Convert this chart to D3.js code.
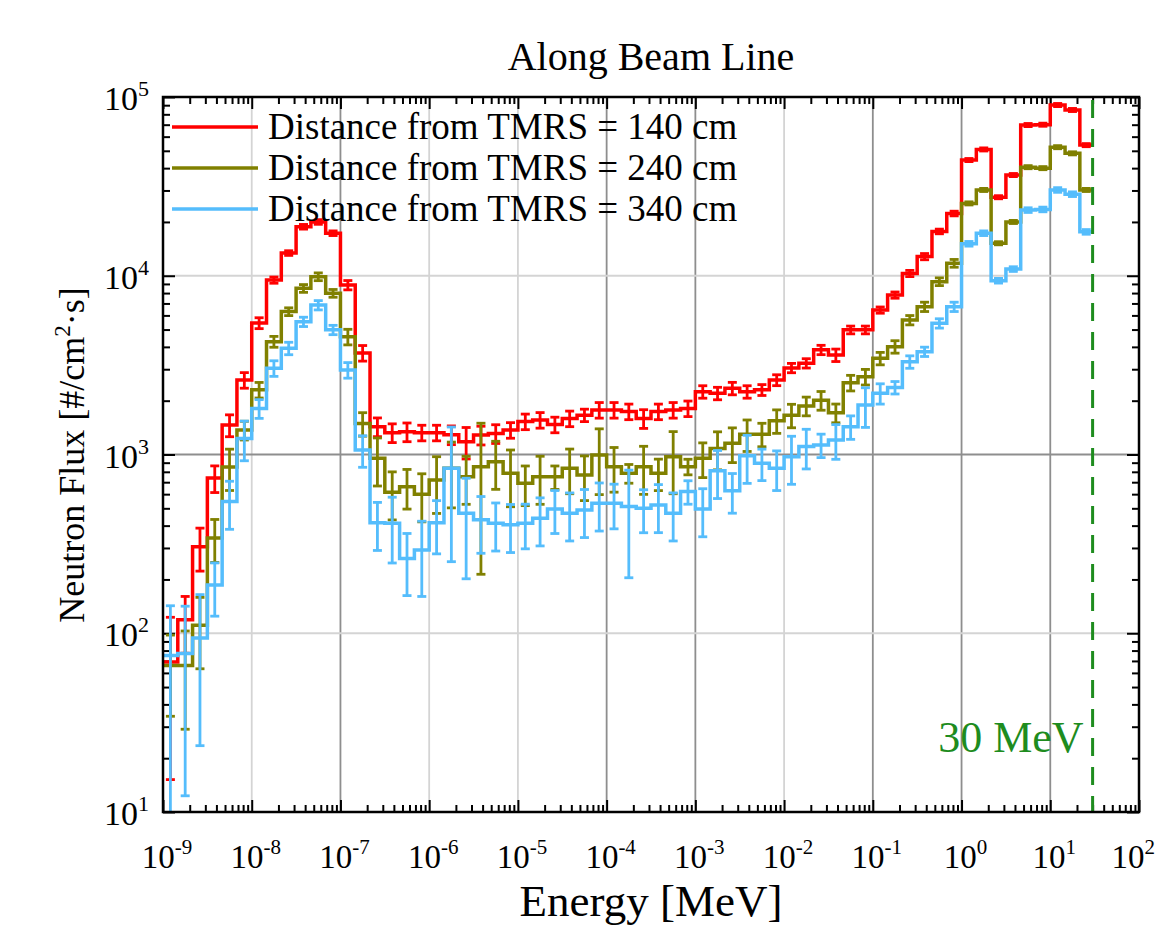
<!DOCTYPE html>
<meta charset="utf-8">
<style>
body { margin: 0; background: #fff; }
text { font-family: "Liberation Serif", "Times New Roman", serif; fill: #000; }
.axis path { display: none; }
.axis line { stroke: #000; stroke-width: 2px; }
.hist { fill: none; stroke-width: 3.5px; stroke-linejoin: miter; }
.err { stroke-width: 2.8px; }
</style>
<body>
<script src="https://d3js.org/d3.v7.min.js"></script>
<script>

// binning: 6 bins per decade, up to the 30 MeV cut
var binsPerDecade = 6,
    eMin = 1e-9,
    eCut = 30,
    nBins = 63;

// neutron flux per bin [#/cm2/s]
var flux140 = [69, 119, 305, 738, 1462, 2610, 5440, 9460, 13400, 18800, 20000, 17300, 8870,
  3700,
  1430, 1325, 1340, 1325, 1325, 1290, 1180, 1285, 1310, 1370, 1530, 1560, 1470,
  1590, 1660, 1775, 1775, 1740, 1590, 1740, 1775, 1810, 2245, 2200, 2345, 2245,
  2300, 2610, 3050, 3240, 3850, 3600, 4980, 4980, 6430, 7800, 10300, 12800, 17700, 22300,
  44400, 50900, 27500, 36600, 69700, 70000, 90200, 84600, 53800];

var flux240 = [66, 66, 111, 341, 850, 1370, 2300, 4280, 6300, 8500, 9880, 7980, 4560,
  1490,
  952, 615, 660, 600, 720, 838, 752, 855, 912, 785, 690, 752,
  750, 838, 767, 994, 855, 785, 855, 785, 973, 855, 952, 1080, 1155, 1300, 1300,
  1545, 1660, 1870, 2010, 1710, 2520, 2720, 3450, 4010, 5650, 6710, 9270, 11750,
  25400, 30200, 15200, 20000, 40500, 40000, 52400, 48400, 30200];

var flux340 = [75, 77, 94, 186, 545, 1230, 1810, 3040, 3930, 5530, 6850, 4980, 2970,
  1060,
  415, 412, 262, 292, 415, 838, 469, 431, 412, 404, 412, 440,
  495, 469, 490, 533, 533, 511, 500, 522, 469, 620, 495, 810, 626, 985, 893,
  838, 973, 1107, 1130, 1205, 1430, 1890, 2200, 2370, 3300, 3760, 5420, 6710,
  15100, 17300, 9380, 10900, 23300, 23500, 30200, 28600, 17600];

// relative statistical errors per bin
var err140 = [0.78, 0.35, 0.27, 0.17, 0.14, 0.1, 0.07, 0.04, 0.03, 0.03, 0.03, 0.03, 0.06,
  0.1,
  0.12, 0.12, 0.12, 0.1, 0.1, 0.12, 0.2, 0.12, 0.12, 0.1, 0.1, 0.1, 0.1,
  0.1, 0.08, 0.1, 0.1, 0.1, 0.12, 0.1, 0.1, 0.1, 0.08, 0.08, 0.08, 0.08,
  0.07, 0.07, 0.06, 0.06, 0.06, 0.08, 0.05, 0.05, 0.04, 0.04, 0.04, 0.04, 0.03, 0.03,
  0.02, 0.02, 0.02, 0.02, 0.02, 0.02, 0.02, 0.02, 0.02];

var err240 = [0.48, 0.56, 0.43, 0.27, 0.26, 0.12, 0.1, 0.07, 0.05, 0.05, 0.05, 0.05, 0.1,
  0.15,
  0.3, 0.3, 0.25, 0.3, 0.35, 0.4, 0.3, 0.75, 0.3, 0.35, 0.25, 0.3,
  0.15, 0.28, 0.28, 0.4, 0.28, 0.12, 0.3, 0.2, 0.38, 0.1, 0.22, 0.24, 0.22, 0.2, 0.15,
  0.15, 0.15, 0.12, 0.12, 0.12, 0.1, 0.1, 0.08, 0.08, 0.06, 0.06, 0.05, 0.05,
  0.02, 0.02, 0.02, 0.02, 0.02, 0.02, 0.02, 0.02, 0.02];

var err340 = [0.9, 0.84, 0.75, 0.33, 0.3, 0.25, 0.12, 0.1, 0.08, 0.06, 0.06, 0.06, 0.1,
  0.2,
  0.3, 0.4, 0.38, 0.45, 0.33, 0.7, 0.57, 0.35, 0.3, 0.3, 0.28, 0.3,
  0.27, 0.3, 0.3, 0.3, 0.28, 0.6, 0.27, 0.3, 0.3, 0.15, 0.3, 0.3, 0.25, 0.3, 0.2,
  0.25, 0.3, 0.25, 0.15, 0.22, 0.15, 0.25, 0.13, 0.08, 0.08, 0.06, 0.06, 0.06,
  0.03, 0.03, 0.03, 0.03, 0.03, 0.03, 0.03, 0.03, 0.03];

var seriesNames = ["Distance from TMRS = 140 cm", "Distance from TMRS = 240 cm", "Distance from TMRS = 340 cm"];
var seriesColors = ["#ff0000", "#808000", "#55bdfc"];
var seriesFlux = [flux140, flux240, flux340];
var seriesErr = [err140, err240, err340];

var xDecades = [-9, -8, -7, -6, -5, -4, -3, -2, -1, 0, 1, 2];
var yDecades = [1, 2, 3, 4, 5];
// these grid lines come out darker in the original
var darkX = [-7, -4, -3, -1, 0, 1],
    darkY = [3];

// bin edges in MeV
var edges = d3.range(nBins + 1).map(function(k) {
  return Math.min(eMin * Math.pow(10, k / binsPerDecade), eCut);
});

var margin = {top: 97, right: 19, bottom: 124, left: 163},
    width = 1158 - margin.left - margin.right,
    height = 936 - margin.top - margin.bottom;

var x = d3.scaleLog().domain([1e-9, 1e2]).range([0, width]);
var y = d3.scaleLog().domain([1e1, 1e5]).range([height, 0]);

var svg = d3.select("body").append("svg")
    .attr("width", 1158)
    .attr("height", 936);

var g = svg.append("g")
    .attr("transform", "translate(" + margin.left + "," + margin.top + ")");

svg.append("defs").append("clipPath").attr("id", "plotclip")
  .append("rect").attr("width", width).attr("height", height);

// grid
g.selectAll(".gx").data(xDecades.slice(1, -1)).enter().append("line")
    .attr("x1", function(d) { return x(Math.pow(10, d)); })
    .attr("x2", function(d) { return x(Math.pow(10, d)); })
    .attr("y1", 0).attr("y2", height)
    .style("stroke", function(d) { return darkX.indexOf(d) >= 0 ? "#8e8e8e" : "#d4d4d4"; })
    .style("stroke-width", 1.8);

g.selectAll(".gy").data(yDecades.slice(1, -1)).enter().append("line")
    .attr("y1", function(d) { return y(Math.pow(10, d)); })
    .attr("y2", function(d) { return y(Math.pow(10, d)); })
    .attr("x1", 0).attr("x2", width)
    .style("stroke", function(d) { return darkY.indexOf(d) >= 0 ? "#8e8e8e" : "#d4d4d4"; })
    .style("stroke-width", 1.8);

// tick values
var majorX = xDecades.map(function(d) { return Math.pow(10, d); });
var minorX = [];
xDecades.slice(0, -1).forEach(function(d) {
  for (var m = 2; m < 10; m++) minorX.push(m * Math.pow(10, d));
});
var majorY = yDecades.map(function(d) { return Math.pow(10, d); });
var minorY = [];
yDecades.slice(0, -1).forEach(function(d) {
  for (var m = 2; m < 10; m++) minorY.push(m * Math.pow(10, d));
});

// inside ticks on all four sides
function addAxis(axisFn, scale, vals, size, tx, ty) {
  g.append("g")
    .attr("class", "axis")
    .attr("transform", "translate(" + tx + "," + ty + ")")
    .call(axisFn(scale).tickValues(vals).tickSize(-size).tickFormat(""));
}
addAxis(d3.axisBottom, x, majorX, 12, 0, height);
addAxis(d3.axisBottom, x, minorX, 7, 0, height);
addAxis(d3.axisTop, x, majorX, 12, 0, 0);
addAxis(d3.axisTop, x, minorX, 7, 0, 0);
addAxis(d3.axisLeft, y, majorY, 12, 0, 0);
addAxis(d3.axisLeft, y, minorY, 7, 0, 0);
addAxis(d3.axisRight, y, majorY, 12, width, 0);
addAxis(d3.axisRight, y, minorY, 7, width, 0);

// histograms + error bars
var plot = g.append("g").attr("clip-path", "url(#plotclip)");

var step = d3.line()
    .curve(d3.curveStepAfter)
    .x(function(d) { return x(d[0]); })
    .y(function(d) { return y(d[1]); });

seriesFlux.forEach(function(flux, s) {
  var pts = flux.map(function(v, i) { return [edges[i], v]; });
  pts.push([edges[nBins], flux[nBins - 1]]);

  plot.append("path")
      .datum(pts)
      .attr("class", "hist")
      .style("stroke", seriesColors[s])
      .attr("d", step);

  var bars = flux.map(function(v, i) {
    var e = seriesErr[s][i];
    return {
      xc: Math.sqrt(edges[i] * edges[i + 1]),
      lo: Math.max(v * (1 - e), 1),
      hi: v * (1 + e)
    };
  });

  var eb = plot.append("g")
      .attr("class", "err")
      .style("stroke", seriesColors[s]);

  eb.selectAll(".v").data(bars).enter().append("line")
      .attr("x1", function(d) { return x(d.xc); })
      .attr("x2", function(d) { return x(d.xc); })
      .attr("y1", function(d) { return y(d.lo); })
      .attr("y2", function(d) { return y(d.hi); });

  ["lo", "hi"].forEach(function(k) {
    eb.selectAll(".c" + k).data(bars).enter().append("line")
        .attr("x1", function(d) { return x(d.xc) - 4.5; })
        .attr("x2", function(d) { return x(d.xc) + 4.5; })
        .attr("y1", function(d) { return y(d[k]); })
        .attr("y2", function(d) { return y(d[k]); });
  });
});

// 30 MeV marker
g.append("line")
    .attr("x1", x(eCut)).attr("x2", x(eCut))
    .attr("y1", 3).attr("y2", height)
    .style("stroke", "#1e8c1e")
    .style("stroke-width", 3)
    .style("stroke-dasharray", "18,11");

g.append("text")
    .attr("x", x(eCut) - 9)
    .attr("y", 655)
    .attr("text-anchor", "end")
    .style("font-size", "44px")
    .style("fill", "#1e8c1e")
    .text("30 MeV");

// frame
g.append("rect")
    .attr("width", width).attr("height", height)
    .style("fill", "none")
    .style("stroke", "#000")
    .style("stroke-width", 2.5);

// legend
var leg = g.selectAll(".leg").data(seriesNames).enter().append("g")
    .attr("transform", function(d, i) { return "translate(9," + (30 + i * 41) + ")"; });
leg.append("line")
    .attr("x1", 0).attr("x2", 86)
    .style("stroke", function(d, i) { return seriesColors[i]; })
    .style("stroke-width", 3.5);
leg.append("text")
    .attr("x", 96).attr("y", 12)
    .style("font-size", "37px")
    .text(function(d) { return d; });

// tick labels with superscript exponents
var xl = g.selectAll(".xl").data(xDecades).enter().append("text")
    .attr("x", function(d) { return d === 2 ? width + 16 : x(Math.pow(10, d)) + 4; })
    .attr("y", height + 56)
    .attr("text-anchor", function(d) { return d === 2 ? "end" : "middle"; })
    .style("font-size", "33px")
    .text("10");
xl.append("tspan")
    .attr("dy", -14)
    .style("font-size", "21px")
    .text(function(d) { return d; });

var yl = g.selectAll(".yl").data(yDecades).enter().append("text")
    .attr("x", -14)
    .attr("y", function(d) { return y(Math.pow(10, d)) + 13; })
    .attr("text-anchor", "end")
    .style("font-size", "34px")
    .text("10");
yl.append("tspan")
    .attr("dy", -14)
    .style("font-size", "22px")
    .text(function(d) { return d; });

// titles
svg.append("text")
    .attr("x", 651).attr("y", 70)
    .attr("text-anchor", "middle")
    .style("font-size", "40px")
    .text("Along Beam Line");

svg.append("text")
    .attr("x", 651).attr("y", 916)
    .attr("text-anchor", "middle")
    .style("font-size", "45px")
    .text("Energy [MeV]");

var ylab = svg.append("text")
    .attr("transform", "translate(84,455) rotate(-90)")
    .attr("text-anchor", "middle")
    .style("font-size", "36px")
    .text("Neutron Flux [#/cm");
ylab.append("tspan").attr("dy", -14).style("font-size", "23px").text("2");
ylab.append("tspan").attr("dy", 14).text("·s]");

</script>
</body>
